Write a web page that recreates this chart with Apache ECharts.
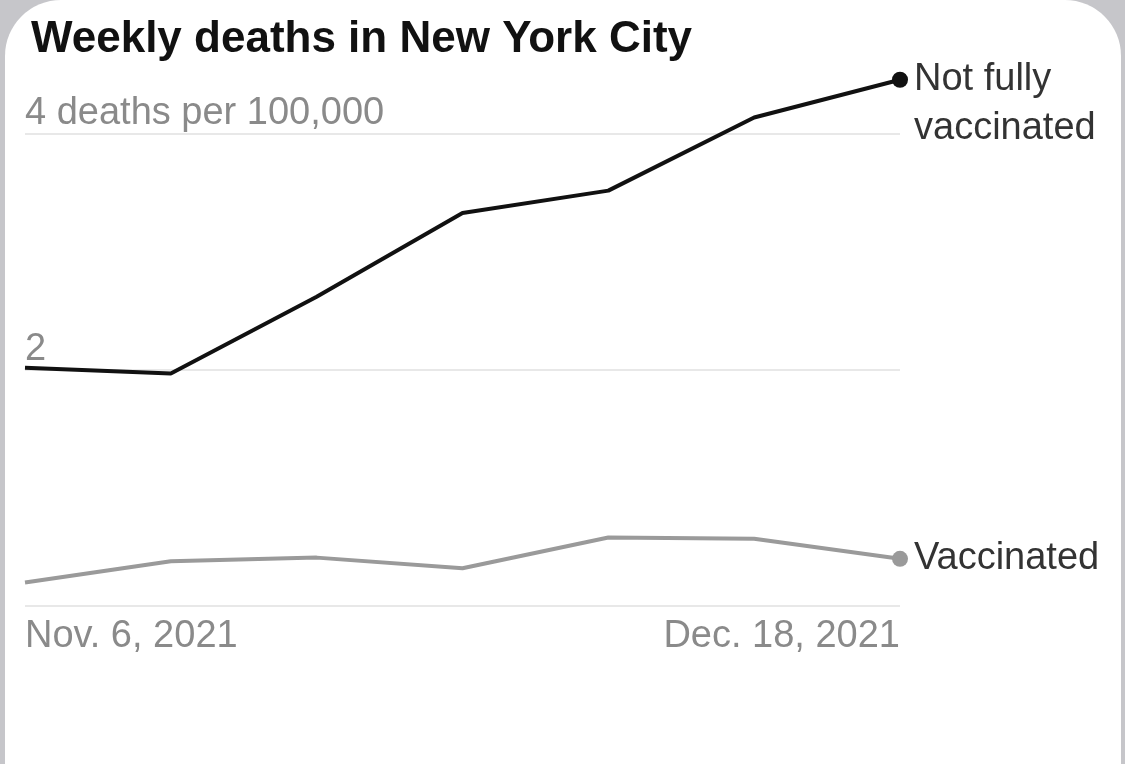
<!DOCTYPE html>
<html>
<head>
<meta charset="utf-8">
<script src="https://cdn.jsdelivr.net/npm/echarts@6/dist/echarts.min.js"></script>
<style>
  html, body { margin: 0; padding: 0; background: #c6c6ca; }
  #card {
    position: absolute; left: 5px; top: 0; width: 1116px; height: 820px;
    background: #fff; border-radius: 56px; overflow: hidden;
  }
  #main { position: absolute; left: -5px; top: 0; width: 1125px; height: 764px; }
</style>
</head>
<body>
<div id="card"><div id="main"></div></div>
<script>
// weekly data, Nov. 6 to Dec. 18, 2021 (deaths per 100,000)
var weeks = ['Nov. 6, 2021', 'Nov. 13', 'Nov. 20', 'Nov. 27', 'Dec. 4', 'Dec. 11', 'Dec. 18, 2021'];
var notFully = [2.02, 1.97, 2.62, 3.33, 3.52, 4.14, 4.46];
var vaccinated = [0.20, 0.38, 0.41, 0.32, 0.58, 0.57, 0.40];
var yTicks = { 2: '2', 4: '4 deaths per 100,000' };

var chart = echarts.init(document.getElementById('main'));
var font = 'Liberation Sans';

function lastOnly(size) {
    return function (v, p) { return p.dataIndex === weeks.length - 1 ? size : 0; };
}

chart.setOption({
    animation: false,
    title: {
        text: 'Weekly deaths in New York City',
        left: 26, top: 13,
        textStyle: { fontFamily: font, fontSize: 44, fontWeight: 'bold', color: '#111' }
    },
    grid: { left: 25, right: 225, top: 134, bottom: 158 },
    xAxis: {
        type: 'category',
        data: weeks,
        boundaryGap: false,
        axisLine: { show: false },
        axisTick: { show: false },
        axisLabel: {
            interval: function (i) { return i === 0 || i === weeks.length - 1; },
            alignMinLabel: 'left',
            alignMaxLabel: 'right',
            margin: 12,
            fontFamily: font, fontSize: 38, color: '#8a8a8a'
        }
    },
    yAxis: {
        type: 'value',
        min: 0, max: 4, interval: 2,
        axisLine: { show: false },
        axisTick: { show: false },
        splitLine: { lineStyle: { color: '#e8e8e8', width: 2 } },
        axisLabel: {
            inside: true,
            margin: 0,
            verticalAlign: 'bottom',
            padding: [0, 0, 1, 0],
            formatter: function (v) { return yTicks[v] || ''; },
            fontFamily: font, fontSize: 38, color: '#8a8a8a'
        }
    },
    series: [
        {
            name: 'Not fully\nvaccinated',
            type: 'line',
            data: notFully,
            clip: false,
            symbol: 'circle',
            symbolSize: lastOnly(16),
            itemStyle: { color: '#111' },
            lineStyle: { color: '#111', width: 4 },
            endLabel: {
                show: true,
                formatter: '{a}',
                distance: 14,
                offset: [0, 24],
                lineHeight: 49,
                fontFamily: font, fontSize: 38, color: '#333'
            }
        },
        {
            name: 'Vaccinated',
            type: 'line',
            data: vaccinated,
            clip: false,
            symbol: 'circle',
            symbolSize: lastOnly(16),
            itemStyle: { color: '#9a9a9a' },
            lineStyle: { color: '#9a9a9a', width: 4 },
            endLabel: {
                show: true,
                formatter: '{a}',
                distance: 14,
                fontFamily: font, fontSize: 38, color: '#333'
            }
        }
    ]
});
</script>
</body>
</html>
